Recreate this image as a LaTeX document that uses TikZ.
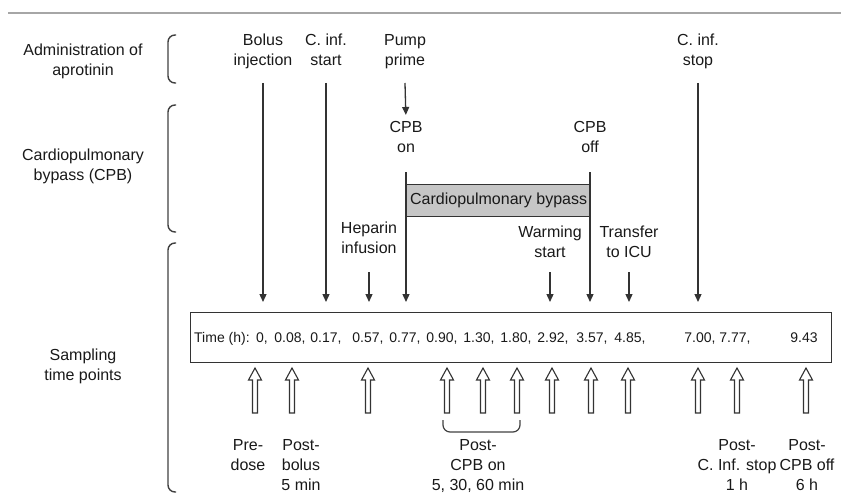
\documentclass[tikz,border=0pt]{standalone}
\usepackage{fontspec}
\setmainfont{Liberation Sans}
\usepackage{tikz}
\usetikzlibrary{arrows.meta}

\begin{document}
\begin{tikzpicture}[x=1pt, y=-1pt,
    lbl/.style={align=center, inner sep=0pt, anchor=north, text=black!90,
                font=\fontsize{16}{20}\selectfont},
    tnum/.style={anchor=base, inner sep=0pt, text=black!90, font=\fontsize{14}{16}\selectfont},
    arr/.style={-{Triangle[length=8pt, width=7pt]}, line width=1.3pt, draw=black!80},
    hollow/.style={draw=black!80, line width=1.1pt, fill=white, line join=miter},
    brk/.style={draw=black!75, line width=1.4pt, rounded corners=7pt}
]
\useasboundingbox (0,0) rectangle (841,495);
\draw[gray!70, line width=1.2pt] (8,13) -- (841,13);

% row headings and their brackets
\node[lbl] (hadm) at (83,44) {Administration of\\aprotinin};
\node[lbl] (hcpb) at (83,149) {Cardiopulmonary\\bypass (CPB)};
\node[lbl] (hsamp) at (83,349) {Sampling\\time points};
\draw[brk] (176,35) -- (168,35) -- (168,83) -- (176,83);
\draw[brk] (176,105) -- (168,105) -- (168,232) -- (176,232);
\draw[brk] (176,243) -- (168,243) -- (168,492) -- (176,492);

\coordinate (admrow) at (0,83);
\coordinate (cpbrow) at (0,172);
\coordinate (shortrow) at (0,272);
\coordinate (tiprow) at (0,302);

% events
\node[lbl] (bolus) at (263,34) {Bolus\\injection};
\node[lbl] (cinfstart) at (326,34) {C. inf.\\start};
\node[lbl] (pump) at (405,34) {Pump\\prime};
\node[lbl] (cinfstop) at (698,34) {C. inf.\\stop};
\node[lbl] (cpbon) at (406,121) {CPB\\on};
\node[lbl] (cpboff) at (590,121) {CPB\\off};
\node[lbl] (heparin) at (369,222) {Heparin\\infusion};
\node[lbl] (warming) at (550,226) {Warming\\start};
\node[lbl] (icu) at (629,226) {Transfer\\to ICU};

\node[draw=black!80, line width=1.3pt, fill=gray!45, inner sep=0pt, anchor=north west,
      minimum width=184pt, minimum height=32pt, text=black!90,
      font=\fontsize{16}{20}\selectfont] (cpb) at (406,184) {Cardiopulmonary bypass};

\draw[arr] (bolus |- admrow) -- (bolus |- tiprow);
\draw[arr] (cinfstart |- admrow) -- (cinfstart |- tiprow);
\draw[arr] (cinfstop |- admrow) -- (cinfstop |- tiprow);
\draw[arr, shorten >=6pt] (pump |- admrow) -- (cpbon.north);
\draw[arr] (cpbon |- cpbrow) -- (cpbon |- tiprow);
\draw[arr] (cpboff |- cpbrow) -- (cpboff |- tiprow);
\draw[arr] (heparin |- shortrow) -- (heparin |- tiprow);
\draw[arr] (warming |- shortrow) -- (warming |- tiprow);
\draw[arr] (icu |- shortrow) -- (icu |- tiprow);

% sampling times
\node[draw=black!80, line width=1.4pt, inner sep=0pt, anchor=north west,
      minimum width=641pt, minimum height=50pt] (tbox) at (190,312) {};
\node[tnum, anchor=base west] (tlabel) at (194,342) {Time (h):};
\foreach \nx/\nv in {262/{0,}, 290/{0.08,}, 326/{0.17,}, 368/{0.57,}, 405/{0.77,},
                     442/{0.90,}, 479/{1.30,}, 516/{1.80,}, 553/{2.92,}, 592/{3.57,},
                     630/{4.85,}, 700/{7.00,}, 735/{7.77,}, 804/{9.43}}
  \node[tnum] (t\nx) at (\nx,342) {\nv};

\foreach \sx in {255,292,368,447,483,517,552,591,628,698,737,806}
  \draw[hollow] (\sx,368) -- (\sx+6.5,380) -- (\sx+2.5,380) -- (\sx+2.5,413)
    -- (\sx-2.5,413) -- (\sx-2.5,380) -- (\sx-6.5,380) -- cycle;
\draw[brk, line width=1.2pt] (443,420) -- (443,432) -- (520,432) -- (520,420);

\node[lbl] (predose) at (248,439) {Pre-\\dose};
\node[lbl] (postbolus) at (301,439) {Post-\\bolus\\5 min};
\node[lbl] (postcpbon) at (478,439) {Post-\\CPB on\\5, 30, 60 min};
\node[lbl] (postcinf) at (737,439) {Post-\\C. Inf. stop\\1 h};
\node[lbl] (postcpboff) at (807,439) {Post-\\CPB off\\6 h};
\end{tikzpicture}
\end{document}
